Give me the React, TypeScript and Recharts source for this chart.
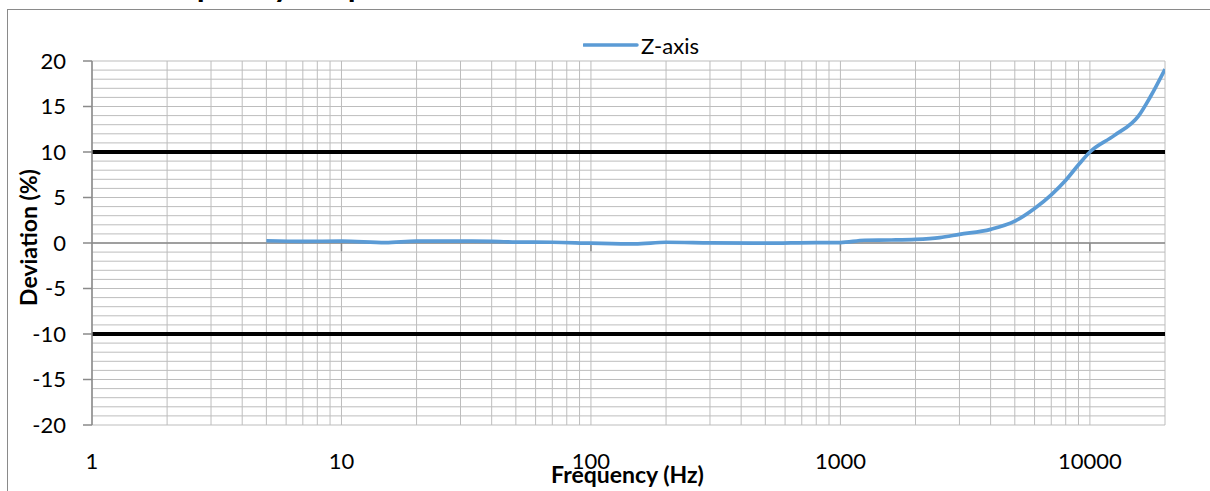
import React from 'react';
import { LineChart, Line, XAxis, YAxis, CartesianGrid, ReferenceLine, Legend, Label } from 'recharts';

const frequencies = [5, 7, 10, 15, 20, 30, 40, 50, 70, 100, 150, 200, 300, 500, 800, 1000, 1250, 1600, 2000, 2500, 3000, 4000, 5000, 6000, 7000, 8000, 9000, 10000, 12500, 15700, 17500, 20000];
const zAxisDeviation = [0.25, 0.18, 0.2, 0.05, 0.2, 0.2, 0.18, 0.1, 0.08, -0.02, -0.1, 0.08, 0.02, -0.02, 0.05, 0.05, 0.3, 0.33, 0.4, 0.6, 0.95, 1.5, 2.4, 3.8, 5.3, 6.9, 8.6, 10.0, 11.8, 14.0, 16.1, 19.1];

const xTicks = [1, 10, 100, 1000, 10000];
const yTicks = [-20, -15, -10, -5, 0, 5, 10, 15, 20];
const xGridValues = [1, 2, 3, 4, 5, 6, 7, 8, 9, 10, 20, 30, 40, 50, 60, 70, 80, 90, 100, 200, 300, 400, 500, 600, 700, 800, 900, 1000, 2000, 3000, 4000, 5000, 6000, 7000, 8000, 9000, 10000, 20000];
const yGridValues = Array.from({ length: 41 }, (_, i) => i - 20);
const limitLines = [10, -10];
const decadeMarks = [10, 100, 1000, 10000];

const data = frequencies.map((f, i) => ({ f, z: zAxisDeviation[i] }));

const FONT = 'Lato, "Open Sans", sans-serif';

const renderLegend = (props: any) => {
  const item = props.payload && props.payload[0];
  return (
    <svg width={140} height={30}>
      <line x1={1} y1={15} x2={54} y2={15} stroke={item ? item.color : '#5b9bd5'} strokeWidth={3.5} strokeLinecap="round" />
      <text x={58} y={15} dominantBaseline="central" fontFamily={FONT} fontSize={22} fill="#000">{item ? item.value : 'Z-axis'}</text>
    </svg>
  );
};

const renderYLabel = (props: any) => {
  const vb = props.viewBox || { x: 0, y: 61, width: 92, height: 364 };
  const cx = vb.x + 28;
  const cy = vb.y + vb.height / 2 - 5.5;
  return (
    <text x={cx} y={cy} transform={`rotate(-90 ${cx} ${cy})`} textAnchor="middle" dominantBaseline="central" fontFamily={FONT} fontWeight="bold" fontSize={23} fill="#000">Deviation (%)</text>
  );
};

const renderXLabel = (props: any) => {
  const vb = props.viewBox || { x: 92, y: 425, width: 1073, height: 66 };
  const cx = vb.x + vb.width / 2 - 1;
  return (
    <text x={cx} y={483} textAnchor="middle" fontFamily={FONT} fontWeight="bold" fontSize={23} fill="#000">Frequency (Hz)</text>
  );
};

export default function App() {
  return (
    <div style={{ position: 'fixed', left: 0, top: 0, width: 1210, height: 491, overflow: 'hidden', background: '#fff' }}>
      <div style={{ position: 'absolute', left: 7, top: 9, width: 1400, height: 700, border: '1px solid #8a8a8a', boxSizing: 'border-box' }} />
      <svg style={{ position: 'absolute', left: 0, top: 0 }} width={1210} height={20}>
        <text x={141} y={-3} fontFamily={FONT} fontWeight="bold" fontSize={32} fill="#000">Frequency Response</text>
      </svg>
      <div style={{ position: 'absolute', left: 0, top: 0 }}>
        <LineChart width={1210} height={491} data={data} margin={{ top: 61, right: 45, bottom: 0, left: 0 }}>
          <CartesianGrid stroke="#bdbdbd" strokeWidth={1} horizontalValues={yGridValues} verticalValues={xGridValues} />
          <XAxis
            dataKey="f"
            type="number"
            scale="log"
            domain={[1, 20000]}
            ticks={xTicks}
            allowDataOverflow
            height={66}
            axisLine={false}
            tickLine={false}
            tickSize={0}
            tickMargin={28}
            interval={0}
            tick={{ fontFamily: FONT, fontSize: 22, fill: '#000' }}
          >
            <Label content={renderXLabel} />
          </XAxis>
          <YAxis
            type="number"
            domain={[-20, 20]}
            ticks={yTicks}
            allowDataOverflow
            width={92}
            axisLine={{ stroke: '#8a8a8a', strokeWidth: 1.5 }}
            tickLine={{ stroke: '#8a8a8a', strokeWidth: 1.5 }}
            tickSize={9}
            tickMargin={17}
            interval={0}
            tick={{ fontFamily: FONT, fontSize: 22, fill: '#000' }}
          >
            <Label content={renderYLabel} />
          </YAxis>
          <ReferenceLine y={0} stroke="#8a8a8a" strokeWidth={1.5} ifOverflow="extendDomain" />
          {decadeMarks.map((d) => (
            <ReferenceLine key={d} segment={[{ x: d, y: 0 }, { x: d, y: -0.9 }]} stroke="#8a8a8a" strokeWidth={1.5} />
          ))}
          {limitLines.map((v) => (
            <ReferenceLine key={v} y={v} stroke="#000" strokeWidth={4} />
          ))}
          <Legend layout="horizontal" verticalAlign="middle" align="center" content={renderLegend} wrapperStyle={{ left: 583, top: 30, width: 140, height: 30 }} />
          <Line name="Z-axis" dataKey="z" type="monotone" stroke="#5b9bd5" strokeWidth={3.7} dot={false} isAnimationActive={false} />
        </LineChart>
      </div>
    </div>
  );
}
